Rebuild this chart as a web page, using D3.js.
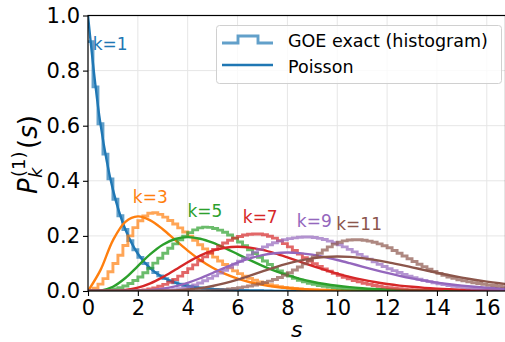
<!DOCTYPE html>
<html>
<head>
<meta charset="utf-8">
<script src="https://cdn.jsdelivr.net/npm/d3@7"></script>
<style>
  html, body { margin: 0; padding: 0; background: #fff; }
  svg { display: block; font-family: "DejaVu Sans", sans-serif; }
</style>
</head>
<body>
<svg id="chart" width="505" height="342"></svg>
<script>
// k-th neighbour spacing distributions: GOE histograms vs Poisson curves
const kValues = [1, 3, 5, 7, 9, 11];
const colors = ["#1f77b4", "#ff7f0e", "#2ca02c", "#d62728", "#9467bd", "#8c564b"];

// Histogram bins of width 0.2 starting at s = 0
const binWidth = 0.2;
const hist1 = [.905,.741,.607,.497,.407,.333,.273,.223,.183,.150,
  .122,.100,.082,.067,.055,.045,.037,.030,.025,.020,
  .017,.014,.011,.009,.007,.006,.005,.004,.003,.003,
  .002,.002,.0015,.001,.001];
const hist3 = [.002,.010,.025,.045,.070,.100,.130,.165,.200,.230,
  .255,.272,.282,.284,.278,.268,.256,.243,.229,.214,
  .199,.184,.168,.153,.138,.123,.109,.096,.084,.073,
  .063,.054,.046,.039,.033,.028,.023,.019,.016,.013,
  .011,.009,.007,.006,.005,.004,.003,.0025,.002,.0015,.001];
const hist5 = [0,0,.001,.002,.004,.007,.012,.018,.027,.038,
  .051,.066,.083,.101,.119,.137,.155,.171,.186,.199,
  .212,.222,.229,.232,.231,.227,.221,.213,.203,.192,
  .178,.164,.150,.136,.122,.109,.096,.084,.073,.063,
  .054,.046,.039,.033,.028,.024,.020,.017,.014,.012,
  .010,.008,.007,.006,.005,.004,.003,.0025,.002,.0015,.001];
const hist7 = [0,0,0,0,0,0,0,0,0,.001,
  .002,.004,.007,.011,.017,.024,.032,.042,.054,.067,
  .081,.095,.110,.124,.138,.151,.163,.174,.184,.192,
  .198,.203,.206,.207,.207,.204,.199,.192,.183,.172,
  .160,.147,.134,.121,.109,.099,.089,.080,.072,.064,
  .057,.050,.044,.038,.033,.028,.024,.020,.017,.014,
  .012,.010,.008,.0065,.005,.004,.003,.0025,.002,.0015,
  .001];
const hist9 = [0,0,0,0,0,0,0,0,0,0,
  0,0,0,0,.001,.002,.003,.005,.008,.011,
  .016,.022,.029,.037,.046,.055,.065,.075,.086,.097,
  .108,.119,.130,.141,.151,.160,.168,.175,.181,.186,
  .190,.193,.195,.196,.196,.194,.191,.187,.181,.175,
  .168,.160,.151,.142,.133,.124,.115,.106,.097,.089,
  .081,.074,.067,.060,.054,.048,.043,.038,.034,.030,
  .026,.023,.020,.017,.015,.013,.011,.009,.008,.007,
  .006,.005,.004,.0035];
const hist11 = [0,0,0,0,0,0,0,0,0,0,
  0,0,0,0,0,0,0,0,0,0,
  0,0,.001,.001,.002,.003,.004,.005,.007,.009,
  .012,.015,.018,.022,.026,.031,.036,.042,.049,.057,
  .066,.076,.087,.099,.111,.124,.137,.149,.160,.170,
  .177,.182,.185,.186,.186,.184,.181,.177,.171,.164,
  .157,.147,.137,.127,.117,.107,.097,.088,.079,.071,
  .064,.057,.051,.046,.041,.037,.033,.030,.027,.024,
  .022,.020,.018,.016];

// Poisson curves sampled every 0.5 from s = 0 to 17
const poissonStep = 0.5;
const poisson1 = [1,.6065,.3679,.2231,.1353,.0821,.0498,.0302,.0183,.0111,
  .0067,.0041,.0025,.0015,.0009,.0006,.0003,.0002,.0001,.0001,0,
  0,0,0,0,0,0,0,0,0,0,0,0,0,0];
const poisson3 = [0,.0758,.1839,.2510,.2707,.2565,.2240,.1850,.1465,.1125,
  .0842,.0618,.0446,.0318,.0223,.0156,.0107,.0073,.0050,.0034,.0023,
  .0015,.0010,.0007,.0004,.0003,.0002,.0001,.0001,0,0,0,0,0,0];
const poisson5 = [0,.0016,.0153,.0471,.0902,.1336,.1680,.1888,.1954,.1898,
  .1755,.1558,.1339,.1118,.0912,.0729,.0573,.0443,.0337,.0254,.0189,
  .0139,.0102,.0074,.0053,.0038,.0027,.0019,.0013,.0009,.0006,.0004,.0003,.0002,.0001];
const poisson7 = [0,0,.0005,.0035,.0120,.0278,.0504,.0771,.1042,.1281,
  .1462,.1571,.1606,.1574,.1490,.1367,.1221,.1066,.0911,.0764,.0631,
  .0513,.0411,.0325,.0255,.0197,.0152,.0115,.0087,.0065,.0048,.0036,.0026,.0019,.0014];
const poisson9 = [0,0,0,.0001,.0009,.0031,.0081,.0169,.0298,.0463,
  .0653,.0848,.1032,.1187,.1303,.1372,.1396,.1375,.1318,.1232,.1126,
  .1009,.0887,.0768,.0655,.0551,.0457,.0375,.0304,.0244,.0194,.0153,.0120,.0093,.0072];
const poisson11 = [0,0,0,0,0,.0002,.0008,.0023,.0053,.0104,
  .0181,.0285,.0413,.0558,.0710,.0859,.0993,.1105,.1186,.1236,.1252,
  .1237,.1194,.1129,.1049,.0957,.0859,.0760,.0663,.0571,.0486,.0409,.0341,.0282,.0230];

// Curve label anchors (data units: s, P)
const labelS = [0.19, 1.8, 3.99, 6.21, 8.38, 9.96];
const labelP = [0.873, 0.321, 0.268, 0.247, 0.233, 0.222];

const xTicks = [0, 2, 4, 6, 8, 10, 12, 14, 16];
const yTicks = [0.0, 0.2, 0.4, 0.6, 0.8, 1.0];

const histograms = [hist1, hist3, hist5, hist7, hist9, hist11];
const poissons = [poisson1, poisson3, poisson5, poisson7, poisson9, poisson11];

const svg = d3.select("#chart");
const plot = { left: 88, right: 505.5, top: 15.5, bottom: 291 };

const x = d3.scaleLinear().domain([0, 16.75]).range([plot.left, plot.right]);
const y = d3.scaleLinear().domain([0, 1]).range([plot.bottom, plot.top]);

svg.append("defs").append("clipPath").attr("id", "clip")
  .append("rect")
  .attr("x", plot.left).attr("y", plot.top)
  .attr("width", plot.right - plot.left).attr("height", plot.bottom - plot.top);

// grid
const grid = svg.append("g");
grid.selectAll(".gx").data(xTicks).join("line")
  .attr("x1", d => x(d)).attr("x2", d => x(d))
  .attr("y1", plot.top).attr("y2", plot.bottom)
  .attr("stroke", "#e6e6e6").attr("stroke-width", 1);
grid.selectAll(".gy").data(yTicks).join("line")
  .attr("x1", plot.left).attr("x2", plot.right)
  .attr("y1", d => y(d)).attr("y2", d => y(d))
  .attr("stroke", "#e6e6e6").attr("stroke-width", 1);

const marks = svg.append("g").attr("clip-path", "url(#clip)");

const stepLine = d3.line().x(d => x(d[0])).y(d => y(d[1])).curve(d3.curveStepAfter);
const smoothLine = d3.line().x(d => x(d[0])).y(d => y(d[1])).curve(d3.curveCatmullRom.alpha(0.5));

kValues.forEach((k, i) => {
  const h = histograms[i];
  const pts = h.map((v, j) => [j * binWidth, v]);
  pts.push([h.length * binWidth, h[h.length - 1]]);
  pts.push([h.length * binWidth, 0]);
  marks.append("path")
    .attr("d", stepLine(pts))
    .attr("fill", "none")
    .attr("stroke", colors[i])
    .attr("stroke-opacity", 0.7)
    .attr("stroke-width", 2.9)
    .attr("stroke-linejoin", "miter");

  const p = poissons[i].map((v, j) => [j * poissonStep, v]);
  marks.append("path")
    .attr("d", smoothLine(p))
    .attr("fill", "none")
    .attr("stroke", colors[i])
    .attr("stroke-width", 2.4);

  svg.append("text")
    .attr("x", x(labelS[i])).attr("y", y(labelP[i]))
    .attr("fill", colors[i])
    .attr("font-size", 17)
    .text("k=" + k);
});

// axes
const xAxis = d3.axisBottom(x).tickValues(xTicks).tickFormat(d3.format("d")).tickSize(5).tickPadding(4);
const yAxis = d3.axisLeft(y).tickValues(yTicks).tickFormat(d3.format(".1f")).tickSize(5).tickPadding(3);

const gx = svg.append("g").attr("transform", `translate(0,${plot.bottom})`).call(xAxis);
const gy = svg.append("g").attr("transform", `translate(${plot.left},0)`).call(yAxis);
[gx, gy].forEach(g => {
  g.select(".domain").remove();
  g.selectAll("line").attr("stroke", "#000").attr("stroke-width", 1.1);
  g.selectAll("text").attr("font-size", 21).attr("fill", "#000")
    .attr("font-family", "DejaVu Sans, sans-serif");
});

// spines
svg.append("rect")
  .attr("x", plot.left).attr("y", plot.top)
  .attr("width", plot.right - plot.left).attr("height", plot.bottom - plot.top)
  .attr("fill", "none").attr("stroke", "#000").attr("stroke-width", 1.2);

// axis labels
svg.append("text")
  .attr("x", (plot.left + plot.right) / 2).attr("y", 337)
  .attr("text-anchor", "middle")
  .attr("font-size", 22).attr("font-style", "italic")
  .text("s");

const yl = svg.append("g").attr("transform", `translate(37,153) rotate(-90)`);
const x0 = -41;
yl.append("text").attr("x", x0).attr("y", 0)
  .attr("font-size", 26).attr("font-style", "italic").text("P");
yl.append("text").attr("x", x0 + 17).attr("y", -12)
  .attr("font-size", 18).text("(1)");
yl.append("text").attr("x", x0 + 16).attr("y", 5)
  .attr("font-size", 18).attr("font-style", "italic").text("k");
const rest = yl.append("text").attr("x", x0 + 45).attr("y", 0).attr("font-size", 26);
rest.append("tspan").text("(");
rest.append("tspan").attr("font-style", "italic").text("s");
rest.append("tspan").text(")");

// legend
const lg = svg.append("g");
lg.append("rect")
  .attr("x", 216.5).attr("y", 25.5).attr("width", 285).attr("height", 58)
  .attr("rx", 3).attr("fill", "#fff").attr("fill-opacity", 0.8)
  .attr("stroke", "#d0d0d0").attr("stroke-width", 1);
lg.append("path")
  .attr("d", d3.line()([[222, 43], [238, 43], [238, 36], [258, 36], [258, 43], [273, 43]]))
  .attr("fill", "none").attr("stroke", colors[0]).attr("stroke-opacity", 0.7).attr("stroke-width", 2.9);
lg.append("line")
  .attr("x1", 222).attr("x2", 273).attr("y1", 65).attr("y2", 65)
  .attr("stroke", colors[0]).attr("stroke-width", 2.4);
lg.append("text").attr("x", 288).attr("y", 47).attr("font-size", 17.5).text("GOE exact (histogram)");
lg.append("text").attr("x", 288).attr("y", 72.5).attr("font-size", 17.5).text("Poisson");
</script>
</body>
</html>
